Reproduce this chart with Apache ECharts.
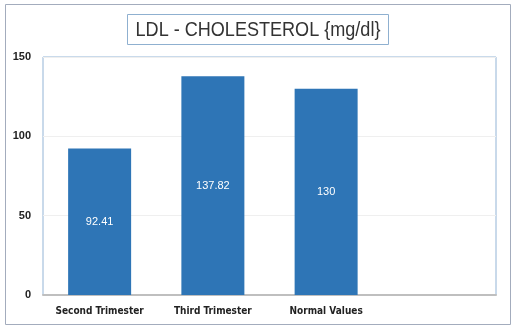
<!DOCTYPE html>
<html><head><meta charset="utf-8">
<script src="https://cdn.jsdelivr.net/npm/echarts@6/dist/echarts.min.js"></script>
<style>html,body{margin:0;padding:0;background:#fff}#c{width:518px;height:332px}</style>
</head><body><div id="c"></div>
<script>
const categories = ['Second Trimester', 'Third Trimester', 'Normal Values', ''];
const values = [92.41, 137.82, 130, null];
const labels = ['92.41', '137.82', '130', ''];
const titleText = 'LDL - CHOLESTEROL {mg/dl}';

const chart = echarts.init(document.getElementById('c'));
chart.setOption({
  animation: false,
  backgroundColor: '#fff',
  graphic: [
    { type: 'rect', shape: { x: 5.5, y: 4.5, width: 505, height: 320 }, style: { fill: 'none', stroke: '#a3acbd', lineWidth: 1 }, z: -1 },
    { type: 'rect', shape: { x: 127.5, y: 14.5, width: 261, height: 30 }, style: { fill: '#fff', stroke: '#8fb0d0', lineWidth: 1 }, z: 5 },
    { type: 'text', x: 258, y: 30, scaleX: 0.86, z: 6,
      style: { text: titleText, align: 'center', verticalAlign: 'middle', fill: '#333',
        font: 'normal 21px "Liberation Sans", Arial, sans-serif' } }
  ],
  grid: { left: 43, right: 22, top: 57, bottom: 37, show: true, borderColor: '#93b4d6', borderWidth: 1, containLabel: false },
  xAxis: {
    type: 'category', data: categories,
    axisLine: { lineStyle: { color: '#bfbfbf', width: 2 } },
    axisTick: { show: false },
    axisLabel: { interval: 0, color: '#222', fontWeight: 'bold', fontSize: 10, margin: 11, fontFamily: '"DejaVu Sans Condensed", "Liberation Sans", sans-serif' }
  },
  yAxis: {
    type: 'value', min: 0, max: 150, interval: 50,
    axisLine: { show: false }, axisTick: { show: false },
    splitLine: { lineStyle: { color: '#efefef' } },
    axisLabel: { color: '#222', fontWeight: 'bold', fontSize: 11, margin: 12, fontFamily: '"Liberation Sans", sans-serif' }
  },
  series: [{
    type: 'bar', data: values, barWidth: 63,
    itemStyle: { color: '#2e75b6' },
    label: { show: true, position: 'inside', color: '#fff', fontSize: 11, fontFamily: '"Liberation Sans", sans-serif',
      formatter: p => labels[p.dataIndex] }
  }]
});
</script></body></html>
